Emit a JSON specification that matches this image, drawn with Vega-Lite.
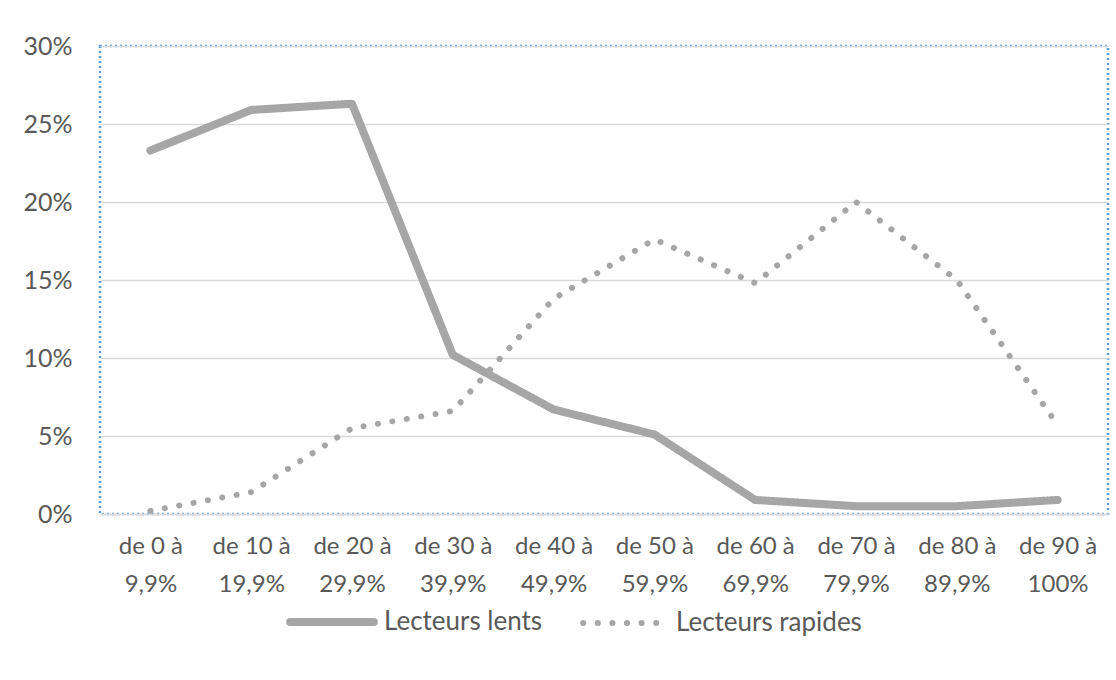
{
  "$schema": "https://vega.github.io/schema/vega-lite/v6.json",
  "width": 1008,
  "height": 468,
  "autosize": {"type": "none"},
  "padding": {"left": 100, "top": 46, "right": 8, "bottom": 166},
  "background": "white",
  "config": {
    "view": {"stroke": "#5b9bd5", "strokeDash": [2, 3], "strokeWidth": 2.5},
    "font": "Lato"
  },
  "data": {
    "values": [
      {"tranche": "de 0 à 9,9%", "lecteurs": "Lecteurs lents", "part": 0.233},
      {"tranche": "de 10 à 19,9%", "lecteurs": "Lecteurs lents", "part": 0.259},
      {"tranche": "de 20 à 29,9%", "lecteurs": "Lecteurs lents", "part": 0.263},
      {"tranche": "de 30 à 39,9%", "lecteurs": "Lecteurs lents", "part": 0.102},
      {"tranche": "de 40 à 49,9%", "lecteurs": "Lecteurs lents", "part": 0.067},
      {"tranche": "de 50 à 59,9%", "lecteurs": "Lecteurs lents", "part": 0.051},
      {"tranche": "de 60 à 69,9%", "lecteurs": "Lecteurs lents", "part": 0.009},
      {"tranche": "de 70 à 79,9%", "lecteurs": "Lecteurs lents", "part": 0.005},
      {"tranche": "de 80 à 89,9%", "lecteurs": "Lecteurs lents", "part": 0.005},
      {"tranche": "de 90 à 100%", "lecteurs": "Lecteurs lents", "part": 0.009},
      {"tranche": "de 0 à 9,9%", "lecteurs": "Lecteurs rapides", "part": 0.002},
      {"tranche": "de 10 à 19,9%", "lecteurs": "Lecteurs rapides", "part": 0.014},
      {"tranche": "de 20 à 29,9%", "lecteurs": "Lecteurs rapides", "part": 0.055},
      {"tranche": "de 30 à 39,9%", "lecteurs": "Lecteurs rapides", "part": 0.066},
      {"tranche": "de 40 à 49,9%", "lecteurs": "Lecteurs rapides", "part": 0.138},
      {"tranche": "de 50 à 59,9%", "lecteurs": "Lecteurs rapides", "part": 0.176},
      {"tranche": "de 60 à 69,9%", "lecteurs": "Lecteurs rapides", "part": 0.148},
      {"tranche": "de 70 à 79,9%", "lecteurs": "Lecteurs rapides", "part": 0.200},
      {"tranche": "de 80 à 89,9%", "lecteurs": "Lecteurs rapides", "part": 0.150},
      {"tranche": "de 90 à 100%", "lecteurs": "Lecteurs rapides", "part": 0.057}
    ]
  },
  "mark": {"type": "line", "strokeCap": "round", "strokeJoin": "round"},
  "encoding": {
    "x": {
      "field": "tranche",
      "type": "ordinal",
      "sort": null,
      "scale": {"type": "point", "padding": 0.5},
      "axis": {
        "title": null,
        "labelAngle": 0,
        "ticks": false,
        "domain": true,
        "domainColor": "#d9d9d9",
        "domainWidth": 1.5,
        "labelPadding": 20,
        "labelFontSize": 24,
        "labelColor": "#595959",
        "labelLineHeight": 38,
        "labelBaseline": "top",
        "labelExpr": "[substring(datum.label, 0, indexof(datum.label, 'à') + 1), substring(datum.label, indexof(datum.label, 'à') + 2)]"
      }
    },
    "y": {
      "field": "part",
      "type": "quantitative",
      "scale": {"domain": [0, 0.3]},
      "axis": {
        "title": null,
        "values": [0, 0.05, 0.1, 0.15, 0.2, 0.25, 0.3],
        "format": ".0%",
        "grid": true,
        "gridColor": "#d9d9d9",
        "gridWidth": 1.5,
        "domain": false,
        "ticks": false,
        "labelPadding": 28,
        "labelFontSize": 25,
        "labelColor": "#595959"
      }
    },
    "color": {
      "field": "lecteurs",
      "type": "nominal",
      "scale": {"domain": ["Lecteurs lents", "Lecteurs rapides"], "range": ["#a6a6a6", "#a6a6a6"]},
      "legend": {
        "title": null,
        "orient": "none",
        "direction": "horizontal",
        "legendX": 186,
        "legendY": 530,
        "symbolType": "stroke",
        "symbolSize": 7000,
        "labelFontSize": 26,
        "labelColor": "#595959",
        "labelOffset": 6,
        "labelLimit": 0,
        "columnPadding": 28,
        "encode": {"symbols": {"update": {"strokeCap": {"value": "round"}}}}
      }
    },
    "strokeDash": {
      "field": "lecteurs",
      "type": "nominal",
      "scale": {"domain": ["Lecteurs lents", "Lecteurs rapides"], "range": [[1, 0], [0.1, 14.5]]}
    },
    "strokeWidth": {
      "field": "lecteurs",
      "type": "nominal",
      "scale": {"domain": ["Lecteurs lents", "Lecteurs rapides"], "range": [8, 6]}
    }
  }
}
